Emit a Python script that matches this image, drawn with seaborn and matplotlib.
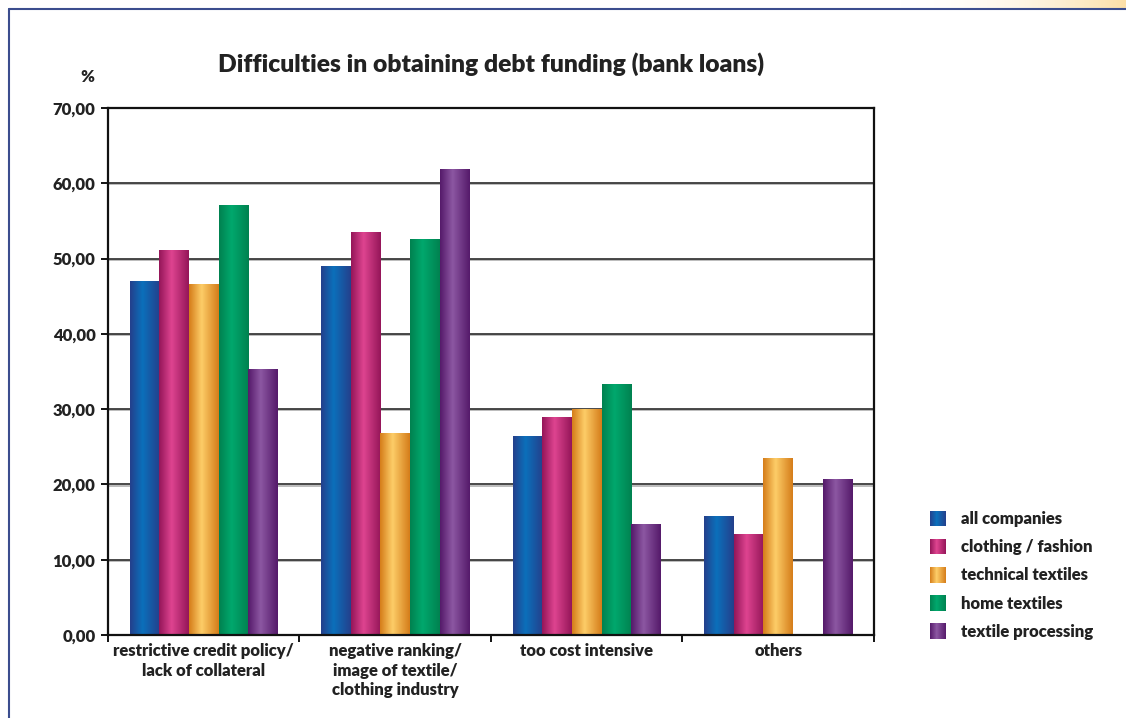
import numpy as np
import pandas as pd
import matplotlib
matplotlib.use("Agg")
import matplotlib.pyplot as plt
from matplotlib.colors import LinearSegmentedColormap, to_rgb
from matplotlib.lines import Line2D
from matplotlib.patches import Rectangle
from matplotlib.legend_handler import HandlerBase
import seaborn as sns

# ---- data -------------------------------------------------------------
categories = [
    "restrictive credit policy/\nlack of collateral",
    "negative ranking/\nimage of textile/\nclothing industry",
    "too cost intensive",
    "others",
]
series = ["all companies", "clothing / fashion", "technical textiles",
          "home textiles", "textile processing"]
all_companies = [47.0, 49.0, 26.4, 15.7]
clothing_fashion = [51.1, 53.4, 28.9, 13.4]
technical_textiles = [46.6, 26.7, 30.0, 23.4]
home_textiles = [57.1, 52.5, 33.3, 0.0]
textile_processing = [35.3, 61.8, 14.7, 20.6]
y_ticks = [0, 10, 20, 30, 40, 50, 60, 70]

values = [all_companies, clothing_fashion, technical_textiles,
          home_textiles, textile_processing]
df = pd.DataFrame(
    [(c, s, v) for s, vals in zip(series, values) for c, v in zip(categories, vals)],
    columns=["category", "series", "value"],
)

# (edge shade, highlight) per series for the cylinder look
shades = {
    "all companies": ("#24408c", "#0b70bb"),
    "clothing / fashion": ("#951659", "#de4490"),
    "technical textiles": ("#d57d1a", "#fdcd68"),
    "home textiles": ("#008250", "#00a86d"),
    "textile processing": ("#551a6a", "#8c57a2"),
}


def cylinder_cmap(dark, light):
    return LinearSegmentedColormap.from_list(
        "cyl", [(0.0, dark), (0.42, light), (1.0, dark)])


def cylinder_row(dark, light, n=64):
    cm = cylinder_cmap(dark, light)
    return cm(np.linspace(0, 1, n))[None, :, :]


# ---- figure -----------------------------------------------------------
sns.set_theme(style="white")
plt.rcParams["font.family"] = ["Lato", "DejaVu Sans"]
W = "heavy"
plt.rcParams["font.weight"] = W
text_color = "#222222"

fig = plt.figure(figsize=(11.26, 7.18), dpi=100)
ax = fig.add_axes([0.0959, 0.1156, 0.6803, 0.734])

palette = {s: shades[s][1] for s in series}
sns.barplot(data=df, x="category", y="value", hue="series", hue_order=series,
            order=categories, palette=palette, width=0.774, gap=0,
            legend=False, ax=ax, zorder=3, linewidth=0, saturation=1)

ax.set_xlim(-0.5, len(categories) - 0.5)
ax.set_ylim(0, 70)

# gradient fill on every bar
for container, s in zip(ax.containers, series):
    dark, light = shades[s]
    img = cylinder_row(dark, light)
    for bar in container:
        x, w, h = bar.get_x(), bar.get_width(), bar.get_height()
        if h <= 0:
            continue
        ax.imshow(img, extent=[x, x + w, 0, h], aspect="auto",
                  interpolation="bilinear", zorder=4)
ax.set_xlim(-0.5, len(categories) - 0.5)
ax.set_ylim(0, 70)

# horizontal grid with a soft shadow underneath
for t in y_ticks[1:-1]:
    ax.axhline(t, color="#3a3a3a", lw=1.3, zorder=1)
    ax.axhline(t - 0.16, color="#b0b0b0", lw=1.2, zorder=0.9)

# axes frame
for side in ["left", "right", "top", "bottom"]:
    ax.spines[side].set_visible(True)
    ax.spines[side].set_color("#111111")
    ax.spines[side].set_linewidth(1.6)
    ax.spines[side].set_zorder(6)

ax.set_yticks(y_ticks)
ax.set_yticklabels([f"{t:.2f}".replace(".", ",") for t in y_ticks],
                   fontsize=12, fontweight=W, color=text_color)
ax.tick_params(axis="y", which="major", direction="out", length=5, width=1.4,
               color="#111111", left=True, pad=4)

# group separators as major ticks, category names on minor ticks
ax.set_xticks(np.arange(-0.5, len(categories), 1.0))
ax.set_xticklabels([""] * (len(categories) + 1))
ax.set_xticks(np.arange(len(categories)), minor=True)
ax.set_xticklabels(categories, minor=True, fontsize=12, fontweight=W,
                   color=text_color, linespacing=1.25)
ax.tick_params(axis="x", which="major", direction="out", length=5, width=1.4,
               color="#111111", bottom=True)
ax.tick_params(axis="x", which="minor", length=0, pad=6)
ax.set_xlabel("")
ax.set_ylabel("")

ax.set_title("Difficulties in obtaining debt funding (bank loans)",
             fontsize=17.7, fontweight=W, color=text_color, pad=26,
             x=0.5)
fig.text(0.078, 0.893, "%", fontsize=12, fontweight=W, color=text_color,
         ha="center", va="center")


# legend with gradient swatches
class CylinderHandler(HandlerBase):
    def __init__(self, dark, light, n=16):
        super().__init__()
        self.dark, self.light, self.n = dark, light, n

    def create_artists(self, legend, orig_handle, xdescent, ydescent,
                       width, height, fontsize, trans):
        cm = cylinder_cmap(self.dark, self.light)
        size = height * 1.05
        x0 = -xdescent + (width - size) / 2
        y0 = -ydescent + (height - size) / 2
        step = size / self.n
        arts = []
        for i in range(self.n):
            r = Rectangle((x0 + i * step, y0), step * 1.05, size,
                          facecolor=cm((i + 0.5) / self.n), edgecolor="none",
                          transform=trans)
            arts.append(r)
        return arts


handles = [Rectangle((0, 0), 1, 1) for _ in series]
handler_map = {h: CylinderHandler(*shades[s]) for h, s in zip(handles, series)}
leg = fig.legend(handles, series, handler_map=handler_map,
                 loc="upper left", bbox_to_anchor=(0.818, 0.3),
                 frameon=False, fontsize=12, handlelength=1.0,
                 handleheight=1.0, handletextpad=0.9, labelspacing=0.72,
                 borderpad=0)
for t in leg.get_texts():
    t.set_fontweight(W)
    t.set_color(text_color)

# page frame lines and warm glow at the top right
fig.add_artist(Line2D([0.008, 0.008], [0.0, 0.9875], transform=fig.transFigure,
                      color="#3b4d8e", lw=1.5))
fig.add_artist(Line2D([0.008, 1.0], [0.9875, 0.9875], transform=fig.transFigure,
                      color="#3b4d8e", lw=1.5))
glow_ax = fig.add_axes([0.78, 0.9885, 0.22, 0.0115])
glow = np.linspace(0, 1, 200) ** 2.2
glow_rgb = np.ones((1, 200, 4))
base = np.array(to_rgb("#fbd58a"))
glow_rgb[0, :, :3] = base
glow_rgb[0, :, 3] = glow * 0.75
glow_ax.imshow(glow_rgb, aspect="auto", extent=[0, 1, 0, 1])
glow_ax.set_axis_off()

fig.savefig("out.png", dpi=100)
